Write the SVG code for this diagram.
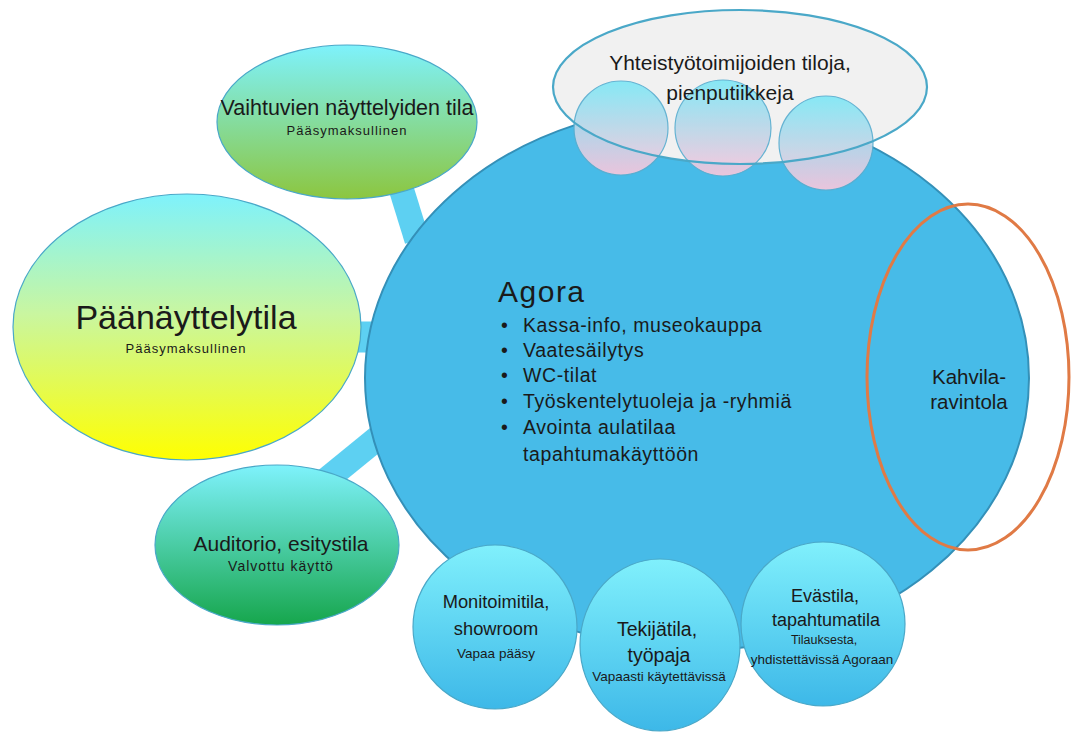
<svg xmlns="http://www.w3.org/2000/svg" width="1073" height="734" viewBox="0 0 1073 734">
<defs>
<linearGradient id="gCyanGreen" x1="0" y1="0" x2="0" y2="1"><stop offset="0" stop-color="#7ef2fc"/><stop offset="1" stop-color="#8cc63f"/></linearGradient>
<linearGradient id="gCyanYellow" x1="0" y1="0" x2="0" y2="1"><stop offset="0" stop-color="#7ef2fc"/><stop offset="0.45" stop-color="#c9f6a0"/><stop offset="1" stop-color="#ffff00"/></linearGradient>
<linearGradient id="gCyanDkGreen" x1="0" y1="0" x2="0" y2="1"><stop offset="0" stop-color="#7ef2fc"/><stop offset="1" stop-color="#16a64c"/></linearGradient>
<linearGradient id="gBottom" x1="0" y1="0" x2="0" y2="1"><stop offset="0" stop-color="#80f0fc"/><stop offset="1" stop-color="#3db8e8"/></linearGradient>
<linearGradient id="gPink" x1="0" y1="0" x2="0" y2="1"><stop offset="0" stop-color="#7ee8f6"/><stop offset="1" stop-color="#f8c6dc"/></linearGradient>
</defs>
<style>
text{font-family:"Liberation Sans",Arial,sans-serif;fill:#1a1a1a}
.node{stroke:#4aa8c8;stroke-width:1.2}
.mid{text-anchor:middle}
.sub{font-size:13px;letter-spacing:1px}
.conn{stroke:#5dd0f2;stroke-width:25;stroke-linecap:butt;fill:none}
.small{fill:url(#gPink);stroke:#5aaed0;stroke-width:1.2;opacity:0.92}
</style>
<g id="connectors">
<line class="conn" x1="400" y1="185" x2="417" y2="240"/>
<line class="conn" x1="350" y1="337" x2="385" y2="337" style="stroke-width:31"/>
<line class="conn" x1="320" y1="485" x2="385" y2="432"/>
</g>
<g id="agora">
<ellipse cx="697" cy="378" rx="332" ry="272" fill="#47bbe8" stroke="#3490b8" stroke-width="2"/>
<text x="498" y="302" font-size="30" letter-spacing="1.5">Agora</text>
<g font-size="19.5" letter-spacing="0.6">
<text x="501" y="332">•</text><text x="523" y="332">Kassa-info, museokauppa</text>
<text x="501" y="357">•</text><text x="523" y="357">Vaatesäilytys</text>
<text x="501" y="382">•</text><text x="523" y="382">WC-tilat</text>
<text x="501" y="408">•</text><text x="523" y="408">Työskentelytuoleja ja -ryhmiä</text>
<text x="501" y="434">•</text><text x="523" y="434">Avointa aulatilaa</text>
<text x="523" y="461">tapahtumakäyttöön</text>
</g>
</g>
<g id="vaihtuvien">
<ellipse class="node" cx="347" cy="122" rx="130" ry="77" fill="url(#gCyanGreen)"/>
<text class="mid" x="347" y="115" font-size="21.5">Vaihtuvien näyttelyiden tila</text>
<text class="mid sub" x="347" y="135">Pääsymaksullinen</text>
</g>
<g id="paanayttelytila">
<ellipse class="node" cx="187" cy="327" rx="174" ry="133" fill="url(#gCyanYellow)"/>
<text class="mid" x="186" y="329" font-size="34">Päänäyttelytila</text>
<text class="mid sub" x="186" y="353">Pääsymaksullinen</text>
</g>
<g id="auditorio">
<ellipse class="node" cx="277" cy="545" rx="122" ry="80" fill="url(#gCyanDkGreen)"/>
<text class="mid" x="281" y="551" font-size="21">Auditorio, esitystila</text>
<text class="mid sub" x="281" y="571" style="font-size:14px">Valvottu käyttö</text>
</g>
<g id="monitoimitila">
<circle class="node" cx="495" cy="627" r="82" fill="url(#gBottom)"/>
<text class="mid" x="496" y="608" font-size="18.3">Monitoimitila,</text>
<text class="mid" x="496" y="635" font-size="18.3">showroom</text>
<text class="mid" x="496" y="658" font-size="13.5">Vapaa pääsy</text>
</g>
<g id="tekijatila">
<ellipse class="node" cx="660" cy="645" rx="80" ry="86" fill="url(#gBottom)"/>
<text class="mid" x="657" y="636" font-size="19.5">Tekijätila,</text>
<text class="mid" x="659" y="662" font-size="19.5">työpaja</text>
<text class="mid" x="659" y="681" font-size="13.5">Vapaasti käytettävissä</text>
</g>
<g id="evastila">
<circle class="node" cx="823" cy="624" r="82" fill="url(#gBottom)"/>
<text class="mid" x="825" y="602" font-size="18">Evästila,</text>
<text class="mid" x="826" y="626" font-size="18">tapahtumatila</text>
<text class="mid" x="824" y="644" font-size="12.5">Tilauksesta,</text>
<text class="mid" x="822" y="664" font-size="13.5">yhdistettävissä Agoraan</text>
</g>
<g id="kahvila">
<ellipse cx="968" cy="377" rx="101" ry="173" fill="none" stroke="#e07a45" stroke-width="3"/>
<text class="mid" x="969" y="384" font-size="20.5">Kahvila-</text>
<text class="mid" x="969" y="409" font-size="20.5">ravintola</text>
</g>
<g id="yhteistyo">
<ellipse cx="740" cy="87" rx="187" ry="77" fill="#f1f1f1"/>
<circle class="small" cx="621" cy="128" r="47"/>
<circle class="small" cx="723" cy="128" r="48"/>
<circle class="small" cx="826" cy="143" r="47"/>
<ellipse cx="740" cy="87" rx="187" ry="77" fill="none" stroke="#4aa8c8" stroke-width="2.2"/>
<text class="mid" x="730" y="70" font-size="21">Yhteistyötoimijoiden tiloja,</text>
<text class="mid" x="730" y="100" font-size="21">pienputiikkeja</text>
</g>
</svg>
